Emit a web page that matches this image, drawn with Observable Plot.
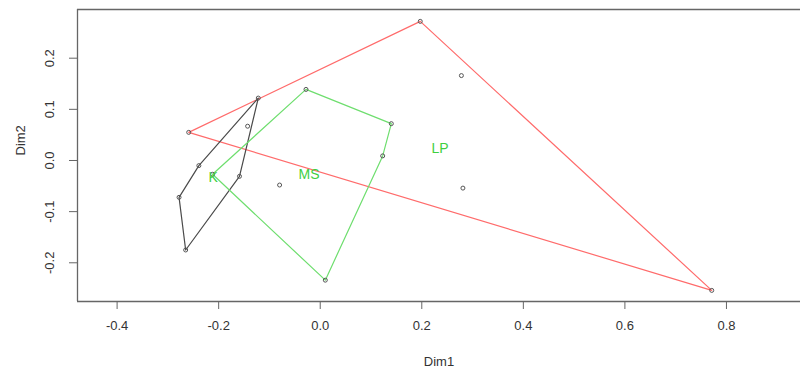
<!DOCTYPE html>
<html><head><meta charset="utf-8">
<script src="https://cdn.jsdelivr.net/npm/d3@7"></script>
<script src="https://cdn.jsdelivr.net/npm/@observablehq/plot@0.6"></script>
<style>body{margin:0;background:#fff;overflow:hidden}</style>
</head><body><div id="chart"></div>
<script>
// Group LP (red hull)
const lpX = [-0.259, 0.197, 0.771, 0.278, 0.281];
const lpY = [0.055, 0.272, -0.254, 0.166, -0.054];
const lpHull = [0, 1, 2];
// Group K (black hull)
const kX = [-0.122, -0.239, -0.278, -0.265, -0.159, -0.143];
const kY = [0.122, -0.010, -0.072, -0.175, -0.031, 0.067];
const kHull = [0, 1, 2, 3, 4];
// Group MS (green hull)
const msX = [-0.028, 0.140, 0.123, 0.010, -0.212, -0.080];
const msY = [0.139, 0.072, 0.009, -0.234, -0.027, -0.048];
const msHull = [0, 1, 2, 3, 4];
// group labels
const labelNames = ["LP", "MS", "K"];
const labelX = [0.236, -0.022, -0.211];
const labelY = [0.023, -0.028, -0.034];
// ticks
const xTicks = [-0.4, -0.2, 0.0, 0.2, 0.4, 0.6, 0.8];
const yTicks = [-0.2, -0.1, 0.0, 0.1, 0.2];
const xDomain = [-0.478, 0.9458];
const yDomain = [-0.2757, 0.2952];

const groups = [
  {name: "LP", xs: lpX, ys: lpY, hull: lpHull, color: "#ff6b6b"},
  {name: "K", xs: kX, ys: kY, hull: kHull, color: "#4a4a4a"},
  {name: "MS", xs: msX, ys: msY, hull: msHull, color: "#6ede6e"}
];
const hullRows = groups.flatMap(g => g.hull.map(i => ({g: g.name, x: g.xs[i], y: g.ys[i], color: g.color})));
const pointRows = groups.flatMap(g => g.xs.map((x, i) => ({g: g.name, x, y: g.ys[i]})));
const labels = labelNames.map((t, i) => ({t, x: labelX[i], y: labelY[i]}));

const chart = Plot.plot({
  width: 800, height: 372,
  marginLeft: 77, marginRight: 0, marginTop: 9, marginBottom: 71,
  style: {fontFamily: "Liberation Sans, Arial, sans-serif", background: "#fff"},
  x: {domain: xDomain, axis: null},
  y: {domain: yDomain, axis: null},
  marks: [
    Plot.line(hullRows, {x: "x", y: "y", z: "g", stroke: "color", curve: "linear-closed", strokeWidth: 1.2}),
    Plot.dot(pointRows, {x: "x", y: "y", r: 2, stroke: "#555", strokeWidth: 1, fill: "none"}),
    Plot.text(labels, {x: "x", y: "y", text: "t", fill: "#3fcf3f", fontSize: 14}),
    Plot.ruleY([yDomain[0], yDomain[1]], {stroke: "#666", strokeWidth: 1.3}),
    Plot.ruleX([xDomain[0]], {stroke: "#666", strokeWidth: 1.3}),
    Plot.axisX({ticks: xTicks, tickSize: 8, tickPadding: 11, tickFormat: d => d.toFixed(1), fontSize: 13, stroke: "#666", fill: "#333", label: null}),
    Plot.axisY({ticks: yTicks, tickSize: 8, tickFormat: () => "", stroke: "#666", label: null}),
    Plot.text(yTicks, {y: d => d, text: d => d.toFixed(1), frameAnchor: "left", dx: -28, rotate: -90, textAnchor: "middle", lineAnchor: "middle", fontSize: 13, fill: "#333"}),
    Plot.text(["Dim1"], {frameAnchor: "bottom", dy: 60, text: d => d, fontSize: 13, fill: "#333", lineAnchor: "middle"}),
    Plot.text(["Dim2"], {frameAnchor: "left", dx: -57, rotate: -90, text: d => d, fontSize: 13, fill: "#333", lineAnchor: "middle"})
  ]
});
document.getElementById("chart").append(chart);
</script>
</body></html>
